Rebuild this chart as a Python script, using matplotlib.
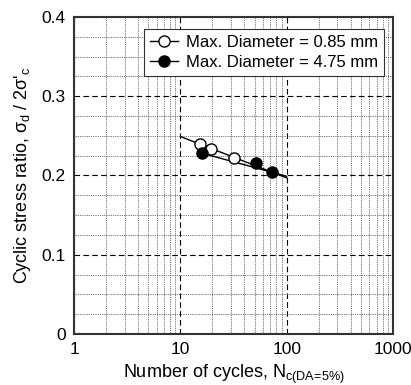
import matplotlib
matplotlib.use("Agg")
import matplotlib.pyplot as plt
from matplotlib.lines import Line2D
from matplotlib.ticker import FixedLocator, MultipleLocator, FixedFormatter

plt.rcParams['font.family'] = ['Liberation Sans', 'DejaVu Sans']
plt.rcParams['mathtext.fontset'] = 'custom'
plt.rcParams['mathtext.rm'] = 'Liberation Sans'
plt.rcParams['mathtext.it'] = 'Liberation Sans:italic'
plt.rcParams['mathtext.default'] = 'regular'

# data
n_085 = [15.3, 19.3, 31.8]
csr_085 = [0.240, 0.2335, 0.2225]
n_475 = [16.1, 51.9, 73.3]
csr_475 = [0.228, 0.2155, 0.204]

fit_n_085 = [10.1, 100]
fit_csr_085 = [0.249, 0.197]
fit_n_475 = [16.1, 100]
fit_csr_475 = [0.228, 0.199]

labels = ["Max. Diameter = 0.85 mm", "Max. Diameter = 4.75 mm"]
xticks = [1, 10, 100, 1000]
xtick_labels = ["1", "10", "100", "1000"]
yticks = [0, 0.1, 0.2, 0.3, 0.4]
ytick_labels = ["0", "0.1", "0.2", "0.3", "0.4"]

fig = plt.figure(figsize=(4.11, 3.85), dpi=100)
ax = fig.add_axes([74/411, 1 - 334/385, 319/411, 317/385])

ax.plot(fit_n_085, fit_csr_085, color='black', lw=1, zorder=3)
ax.plot(fit_n_475, fit_csr_475, color='black', lw=1, zorder=3)
ax.plot(n_085, csr_085, 'o', mfc='white', mec='black', ms=8, mew=1, zorder=4)
ax.plot(n_475, csr_475, 'o', mfc='black', mec='black', ms=8, mew=1, zorder=4)

ax.set_xscale('log')
ax.set_xlim(1, 1000)
ax.set_ylim(0, 0.4)
ax.xaxis.set_major_locator(FixedLocator(xticks))
ax.xaxis.set_major_formatter(FixedFormatter(xtick_labels))
ax.minorticks_on()
ax.yaxis.set_major_locator(FixedLocator(yticks))
ax.yaxis.set_major_formatter(FixedFormatter(ytick_labels))
ax.yaxis.set_minor_locator(MultipleLocator(0.025))

ax.grid(which='major', color='black', ls=(0, (5, 3)), lw=0.8)
ax.grid(which='minor', color='#444444', ls=(0, (1, 1.2)), lw=0.6)
ax.tick_params(which='both', length=0, labelsize=12.5, pad=6)
for s in ax.spines.values():
    s.set_linewidth(1.5)
    s.set_color('#333333')

ax.set_xlabel(r"Number of cycles, N$_{c(DA\!=\!5\%)}$", fontsize=13, labelpad=4)
ax.set_ylabel(r"Cyclic stress ratio, σ$_{d}$ / 2σ'$_{c}$", fontsize=13, labelpad=6)

handles = [Line2D([], [], color='black', lw=1, marker='o', mfc='white', mec='black', ms=8),
           Line2D([], [], color='black', lw=1, marker='o', mfc='black', mec='black', ms=8)]
leg = ax.legend(handles, labels, loc='upper left', bbox_to_anchor=(0.219, 0.962), fontsize=12,
                frameon=True, fancybox=False, edgecolor='#333333', framealpha=1,
                handlelength=1.7, handletextpad=0.5, borderpad=0.35, labelspacing=0.3,
                borderaxespad=0)
leg.get_frame().set_linewidth(0.8)

fig.savefig("out.png", dpi=100)
